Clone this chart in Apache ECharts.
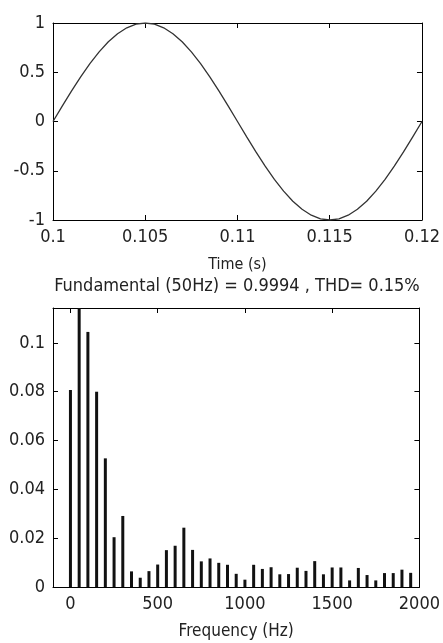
<!DOCTYPE html>
<html>
<head>
<meta charset="utf-8">
<script src="https://cdn.jsdelivr.net/npm/echarts@6/dist/echarts.min.js"></script>
<style>
  html, body { margin: 0; padding: 0; background: #fff; }
  #main { width: 443px; height: 643px; }
</style>
</head>
<body>
<div id="main"></div>
<script>
// time signal (top plot)
var timeS = [0.1, 0.1005, 0.101, 0.1015, 0.102, 0.1025, 0.103, 0.1035, 0.104, 0.1045,
             0.105, 0.1055, 0.106, 0.1065, 0.107, 0.1075, 0.108, 0.1085, 0.109, 0.1095,
             0.11, 0.1105, 0.111, 0.1115, 0.112, 0.1125, 0.113, 0.1135, 0.114, 0.1145,
             0.115, 0.1155, 0.116, 0.1165, 0.117, 0.1175, 0.118, 0.1185, 0.119, 0.1195, 0.12];
var signal = [0, 0.156, 0.309, 0.454, 0.588, 0.707, 0.809, 0.891, 0.951, 0.988,
              1, 0.988, 0.951, 0.891, 0.809, 0.707, 0.588, 0.454, 0.309, 0.156,
              0, -0.156, -0.309, -0.454, -0.588, -0.707, -0.809, -0.891, -0.951, -0.988,
              -1, -0.988, -0.951, -0.891, -0.809, -0.707, -0.588, -0.454, -0.309, -0.156, 0];
var timeTicks = [0.1, 0.105, 0.11, 0.115, 0.12];
var signalTicks = [-1, -0.5, 0, 0.5, 1];

// spectrum (bottom plot)
var freqHz = [0, 50, 100, 150, 200, 250, 300, 350, 400, 450,
              500, 550, 600, 650, 700, 750, 800, 850, 900, 950,
              1000, 1050, 1100, 1150, 1200, 1250, 1300, 1350, 1400, 1450,
              1500, 1550, 1600, 1650, 1700, 1750, 1800, 1850, 1900, 1950];
var magnitude = [0.0807, 0.9994, 0.1045, 0.0800, 0.0527, 0.0204, 0.0291, 0.0064, 0.0038, 0.0065,
                 0.0092, 0.0151, 0.0169, 0.0243, 0.0152, 0.0105, 0.0117, 0.0099, 0.0091, 0.0054,
                 0.0030, 0.0091, 0.0074, 0.0081, 0.0052, 0.0053, 0.0079, 0.0066, 0.0106, 0.0052,
                 0.0080, 0.0080, 0.0027, 0.0078, 0.0049, 0.0027, 0.0057, 0.0057, 0.0071, 0.0058];
var freqTicks = [0, 500, 1000, 1500, 2000];
var magTicks = [0, 0.02, 0.04, 0.06, 0.08, 0.1];

var FONT = "'DejaVu Sans Condensed', 'Liberation Sans', sans-serif";
var INK = '#222';

function boxAxis(opt) {
    // MATLAB style axis: black line, ticks pointing inward
    var ax = {
        type: 'value',
        min: opt.min,
        max: opt.max,
        position: opt.position,
        gridIndex: opt.grid,
        splitLine: { show: false },
        axisLine: { show: true, onZero: false, lineStyle: { color: '#000', width: 1 } },
        axisTick: { show: true, inside: true, length: 5, customValues: opt.ticks,
                    lineStyle: { color: '#000' } },
        axisLabel: { show: opt.labels, customValues: opt.ticks, margin: 8,
                     color: INK, fontFamily: FONT, fontSize: 18,
                     formatter: function (v) { return String(v); } }
    };
    if (opt.name) {
        ax.name = opt.name;
        ax.nameLocation = 'middle';
        ax.nameGap = opt.nameGap;
        ax.nameTextStyle = { color: INK, fontFamily: FONT, fontSize: opt.nameSize };
    }
    return ax;
}

var chart = echarts.init(document.getElementById('main'));
chart.setOption({
    backgroundColor: '#fff',
    animation: false,
    title: {
        text: 'Fundamental (50Hz) = 0.9994 , THD= 0.15%',
        left: 232,
        textAlign: 'center',
        top: 272,
        textStyle: { color: INK, fontFamily: FONT, fontSize: 18, fontWeight: 'normal' }
    },
    grid: [
        { left: 53, top: 23, width: 370, height: 197 },
        { left: 53, top: 308, width: 371, height: 279 }
    ],
    xAxis: [
        boxAxis({ grid: 0, min: 0.1, max: 0.12, ticks: timeTicks, position: 'bottom', labels: true,
                  name: 'Time (s)', nameGap: 37, nameSize: 16 }),
        boxAxis({ grid: 0, min: 0.1, max: 0.12, ticks: timeTicks, position: 'top', labels: false }),
        boxAxis({ grid: 1, min: -100, max: 2000, ticks: freqTicks, position: 'bottom', labels: true,
                  name: 'Frequency (Hz)', nameGap: 36, nameSize: 17 }),
        boxAxis({ grid: 1, min: -100, max: 2000, ticks: freqTicks, position: 'top', labels: false })
    ],
    yAxis: [
        boxAxis({ grid: 0, min: -1, max: 1, ticks: signalTicks, position: 'left', labels: true }),
        boxAxis({ grid: 0, min: -1, max: 1, ticks: signalTicks, position: 'right', labels: false }),
        boxAxis({ grid: 1, min: 0, max: 0.1143, ticks: magTicks, position: 'left', labels: true }),
        boxAxis({ grid: 1, min: 0, max: 0.1143, ticks: magTicks, position: 'right', labels: false })
    ],
    series: [
        {
            type: 'line',
            xAxisIndex: 0,
            yAxisIndex: 0,
            symbol: 'none',
            lineStyle: { color: '#333', width: 1.3 },
            data: timeS.map(function (t, i) { return [t, signal[i]]; })
        },
        {
            type: 'bar',
            xAxisIndex: 2,
            yAxisIndex: 2,
            barWidth: 3,
            clip: true,
            itemStyle: { color: '#111' },
            data: freqHz.map(function (f, i) { return [f, magnitude[i]]; })
        }
    ]
});
</script>
</body>
</html>
